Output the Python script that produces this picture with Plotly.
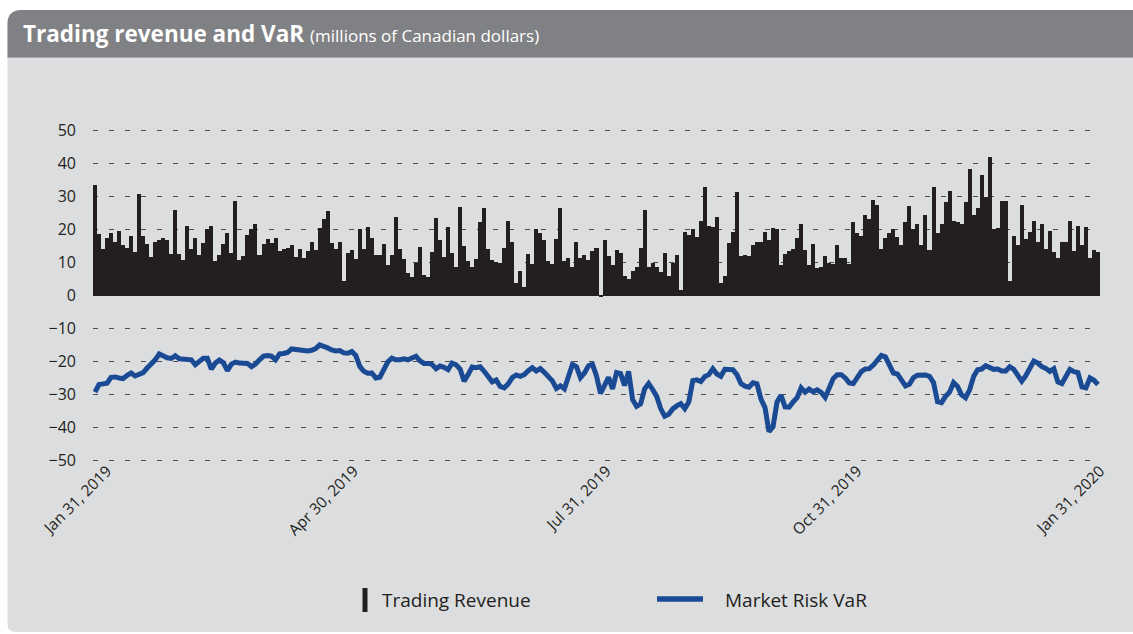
import plotly.graph_objects as go

# ---------------- data ----------------
trading_revenue = [
    33.4, 18.8, 14.0, 17.3, 19.0, 16.3, 19.7, 15.3, 14.5, 17.9, 13.2, 30.9, 18.1, 15.6, 11.8, 16.1,
    16.9, 17.3, 16.7, 12.6, 26.0, 12.6, 10.8, 21.0, 14.2, 17.4, 12.4, 15.8, 20.2, 21.0, 10.6, 12.4,
    15.5, 19.0, 12.8, 28.8, 10.8, 12.0, 18.3, 20.1, 21.6, 12.4,
    15.5, 17.0, 16.0, 17.5, 13.5, 14.2, 14.5, 15.4, 11.8, 14.0, 11.4, 13.4, 16.2, 13.9, 20.5, 23.2,
    25.5, 15.8, 14.2, 16.3, 4.3, 12.9, 13.8, 11.0, 20.1, 14.2, 20.9, 17.3, 12.4, 12.2, 15.5, 9.2,
    12.4, 23.9, 14.0, 11.2, 6.9, 5.6, 10.0, 14.6, 6.1,
    5.5, 13.2, 23.4, 16.7, 11.8, 20.7, 13.0, 8.7, 26.8, 15.1, 10.4, 8.7, 11.2, 22.2, 26.4, 14.0,
    10.8, 10.2, 9.8, 14.5, 22.5, 16.3, 3.8, 7.5, 2.7, 12.5, 9.7, 20.3, 18.9, 16.7, 10.5, 9.7,
    17.0, 26.4, 10.4, 11.4, 8.5, 16.3, 11.4, 12.4, 10.8,
    13.4, 14.5, -0.5, 16.8, 11.9, 9.3, 13.9, 12.9, 6.0, 4.9, 7.5, 8.6, 14.5, 25.8, 8.5, 9.8,
    8.7, 7.1, 13.0, 6.0, 9.9, 12.4, 1.7, 19.4, 18.5, 20.1, 17.8, 22.7, 33.0, 21.1, 20.8, 23.7,
    3.9, 5.9, 15.8, 19.4, 31.5, 11.9, 12.4, 11.9, 15.2,
    16.2, 16.3, 19.4, 16.7, 20.5, 20.3, 9.3, 12.5, 13.6, 14.1, 17.4, 21.6, 13.9, 9.3, 15.7, 8.2,
    8.5, 12.1, 9.8, 9.7, 15.2, 11.5, 11.4, 9.7, 22.2, 19.1, 17.9, 24.3, 23.1, 28.9, 27.5, 14.2,
    17.3, 19.0, 20.1, 17.6, 15.2, 22.3, 27.1, 20.3, 21.6, 15.2,
    24.4, 13.7, 33.0, 18.9, 21.8, 28.3, 31.8, 22.6, 22.3, 21.7, 28.5, 38.5, 24.3, 26.4, 36.4, 29.8,
    41.9, 20.2, 20.5, 28.7, 28.8, 4.4, 18.1, 15.3, 27.3, 17.0, 19.3, 22.5, 16.2, 21.8, 14.0, 19.7,
    13.3, 11.4, 16.1, 16.3, 22.7, 13.6, 21.1, 15.2, 20.9, 11.4, 13.9, 13.2,
]

market_risk_var = [
    -29.3, -27.0, -26.8, -26.6, -24.8, -24.7, -25.0, -25.2, -24.2, -23.5, -24.4, -24.0, -23.4, -22.0,
    -20.8, -19.5, -17.7, -18.4, -18.9, -19.1, -18.3, -19.2, -19.4, -19.3, -19.5, -21.0, -19.8, -19.0,
    -19.0, -22.3, -20.5, -19.6, -20.4, -22.8, -20.8, -20.2, -20.5, -20.5, -20.6, -21.6, -20.8, -19.5,
    -18.4, -18.2, -18.4, -19.5, -17.7, -17.6, -17.3, -16.2, -16.3, -16.5, -16.8, -16.8, -16.6, -16.1,
    -15.0, -15.3, -15.9, -16.5, -16.8, -16.7, -17.4, -17.5, -17.0, -18.2, -21.5, -23.0, -23.6, -23.5,
    -25.0, -24.8, -22.4, -20.1, -19.0, -19.5, -19.5, -19.2, -19.5, -19.0, -18.4, -19.8, -20.6,
    -20.6, -20.9, -22.2, -21.4, -21.8, -22.5, -20.5, -21.0, -22.3, -26.0, -24.0, -21.7, -21.9, -21.6,
    -23.0, -24.9, -26.2, -25.6, -27.6, -28.0, -26.8, -24.9, -24.1, -24.5, -24.0, -22.8, -21.9, -22.9,
    -22.2, -23.3, -24.5, -25.9, -28.2, -27.4, -28.3, -24.3, -20.9, -21.6, -24.9, -23.5, -21.3,
    -20.9, -24.4, -29.7, -27.0, -24.8, -28.3, -23.4, -23.7, -27.3, -23.0, -31.6, -33.6, -32.9, -28.3,
    -26.7, -28.5, -30.6, -34.3, -36.6, -36.0, -34.4, -33.5, -32.8, -34.3, -32.3, -25.8, -25.6, -26.1,
    -24.6, -24.0, -22.2, -23.8, -24.5, -22.4, -22.5, -22.5, -24.0, -26.7, -27.5, -27.8, -26.5,
    -26.8, -31.4, -34.0, -41.3, -39.8, -32.3, -30.3, -33.8, -33.9, -32.3, -31.0, -28.0, -29.3, -28.4,
    -29.2, -28.6, -29.4, -30.9, -28.2, -25.2, -24.0, -24.0, -25.0, -26.5, -26.7, -24.7, -23.1, -22.3,
    -22.2, -21.1, -19.4, -18.2, -18.6, -21.0, -23.5, -23.8, -25.4, -27.4, -26.9, -24.9, -24.2, -24.2,
    -24.1, -24.5, -26.4, -32.2, -32.5, -30.6, -29.3, -26.4, -27.6, -30.1, -31.0, -28.6, -24.6, -22.5,
    -22.3, -21.3, -21.9, -22.4, -22.3, -22.9, -22.9, -21.6, -22.4, -24.2, -26.0, -24.3, -21.7, -19.9,
    -20.5, -21.6, -22.1, -23.0, -22.2, -26.2, -26.7, -24.4, -22.4, -23.1, -23.4, -27.7, -28.0, -25.0,
    -25.7, -27.0,
]

tick_labels = ["Jan 31, 2019", "Apr 30, 2019", "Jul 31, 2019", "Oct 31, 2019", "Jan 31, 2020"]
tick_day_index = [3, 64.5, 127.5, 190, 250.5]

y_ticks = [50, 40, 30, 20, 10, 0, -10, -20, -30, -40, -50]

series_names = ["Trading Revenue", "Market Risk VaR"]
title_main = "Trading revenue and VaR"
title_sub = "(millions of Canadian dollars)"

# ---------------- layout geometry ----------------
W, H = 1133, 634
ML, MR, MT, MB = 93, 33, 129, 172
PW, PH = W - ML - MR, H - MT - MB

def px(x):
    return (x - ML) / PW

def py(y):
    return (H - MB - y) / PH

BAR_COLOR = "#231f20"
LINE_COLOR = "#1a4a94"
PANEL = "#dcdddf"
HEADER = "#808184"
TEXT = "#231f20"
FONT = "Open Sans"

days = list(range(len(trading_revenue)))

fig = go.Figure()
fig.add_trace(go.Bar(
    x=days, y=trading_revenue, name=series_names[0],
    marker=dict(color=BAR_COLOR, line=dict(width=0)),
    showlegend=False,
))
fig.add_trace(go.Scatter(
    x=list(range(len(market_risk_var))), y=market_risk_var, name=series_names[1],
    mode="lines", line=dict(color=LINE_COLOR, width=5),
    showlegend=False,
))

shapes = []
r = 14
rb = 8
L0 = 7.5
# panel body
shapes.append(dict(
    type="path", xref="paper", yref="paper", layer="below",
    path=(f"M {px(L0)},{py(632-rb)} L {px(L0)},{py(10+r)} Q {px(L0)},{py(10)} {px(L0+r)},{py(10)} "
          f"L {px(W+2)},{py(10)} L {px(W+2)},{py(632)} L {px(L0+rb)},{py(632)} "
          f"Q {px(L0)},{py(632)} {px(L0)},{py(632-rb)} Z"),
    fillcolor=PANEL, line=dict(width=0),
))
# header
shapes.append(dict(
    type="path", xref="paper", yref="paper", layer="below",
    path=(f"M {px(L0)},{py(57)} L {px(L0)},{py(10+r)} Q {px(L0)},{py(10)} {px(L0+r)},{py(10)} "
          f"L {px(W+2)},{py(10)} L {px(W+2)},{py(57)} Z"),
    fillcolor=HEADER, line=dict(width=0),
))
shapes.append(dict(type="line", xref="paper", yref="paper", layer="below",
                   x0=px(L0), x1=px(W + 2), y0=py(57.5), y1=py(57.5),
                   line=dict(color="#a7a9ac", width=1)))
# legend markers
shapes.append(dict(type="rect", xref="paper", yref="paper", layer="above",
                   x0=px(362.5), x1=px(367.5), y0=py(612), y1=py(588),
                   fillcolor=BAR_COLOR, line=dict(width=0)))
shapes.append(dict(type="line", xref="paper", yref="paper", layer="above",
                   x0=px(657), x1=px(703), y0=py(599), y1=py(599),
                   line=dict(color=LINE_COLOR, width=5.5)))

annotations = [
    dict(xref="paper", yref="paper", x=px(21), y=py(33), xanchor="left", yanchor="middle",
         showarrow=False,
         text=f"<b>{title_main}</b> <span style='font-size:17px'>{title_sub}</span>",
         font=dict(family=FONT, size=22.5, color="white")),
    dict(xref="paper", yref="paper", x=px(380), y=py(600), xanchor="left", yanchor="middle",
         showarrow=False, text=series_names[0], font=dict(family=FONT, size=19, color=TEXT)),
    dict(xref="paper", yref="paper", x=px(723), y=py(600), xanchor="left", yanchor="middle",
         showarrow=False, text=series_names[1], font=dict(family=FONT, size=19, color=TEXT)),
]

fig.update_layout(
    width=W, height=H,
    margin=dict(l=ML, r=MR, t=MT, b=MB, pad=0),
    paper_bgcolor="white",
    plot_bgcolor="rgba(0,0,0,0)",
    bargap=0,
    showlegend=False,
    shapes=shapes,
    annotations=annotations,
    font=dict(family=FONT, color=TEXT),
    xaxis=dict(
        range=[-0.5, len(trading_revenue) - 0.5],
        tickvals=tick_day_index, ticktext=tick_labels,
        tickangle=-45, showgrid=False, zeroline=False, showline=False, ticks="",
        ticklabelstandoff=-4,
        tickfont=dict(family=FONT, size=15.5, color=TEXT),
    ),
    yaxis=dict(
        range=[-50.5, 50.5], tickvals=y_ticks,
        showgrid=True, gridcolor="#4d4d4f", gridwidth=1, griddash="5px,11px",
        zeroline=False, showline=False, ticks="",
        ticklabelstandoff=16,
        tickfont=dict(family=FONT, size=16, color=TEXT),
    ),
)

fig.write_html(
    "out.html",
    config={"displayModeBar": False},
    post_script="document.body.style.margin='0';document.body.style.overflow='hidden';",
)
